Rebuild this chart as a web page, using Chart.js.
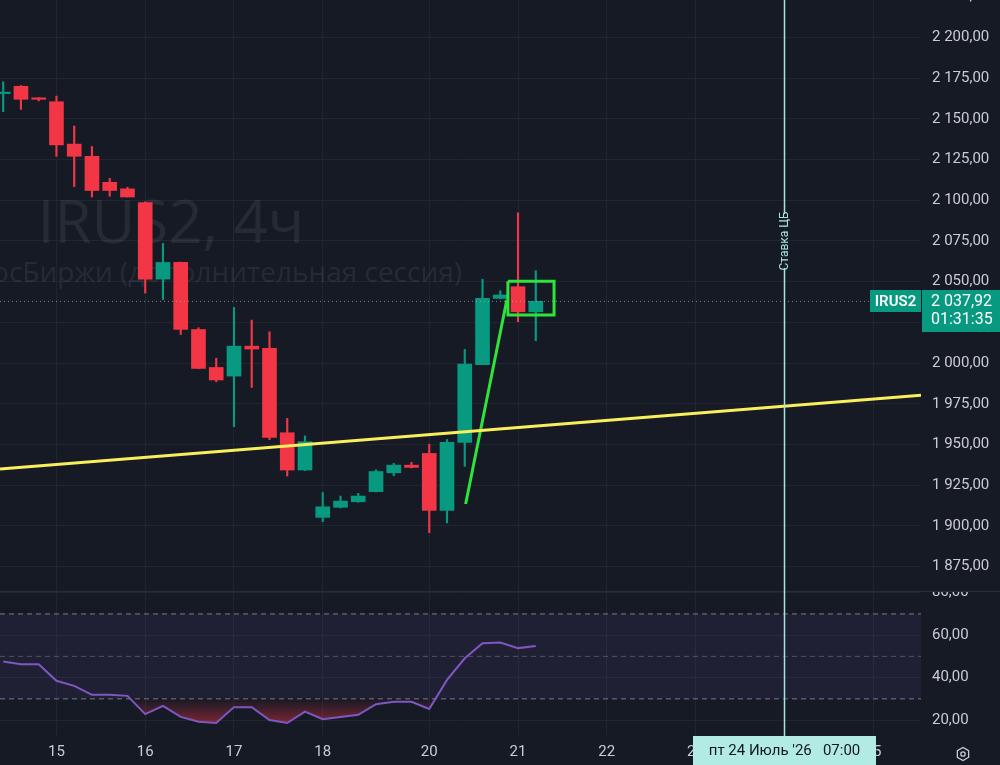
<!DOCTYPE html>
<html>
<head>
<meta charset="utf-8">
<script src="https://cdn.jsdelivr.net/npm/chart.js@4.4.0/dist/chart.umd.min.js"></script>
<style>
  html, body { margin: 0; padding: 0; background: #161a25; overflow: hidden; }
  #wrap { position: relative; width: 1000px; height: 765px; }
  canvas { position: absolute; left: 0; display: block; }
  #price { top: 0; }
  #rsi { top: 591px; }
</style>
</head>
<body>
<div id="wrap">
  <canvas id="price" width="1000" height="591"></canvas>
  <canvas id="rsi" width="1000" height="174"></canvas>
</div>
<script>
// IRUS2, 4h candles (index = candle number)
const opens  = [2165.5, 2170, 2162.5, 2160.5, 2134.5, 2127, 2111, 2107, 2098.5, 2051.6, 2061.8, 2020.6, 1997.3, 1992, 2010.4, 2009, 1957.2, 1934.3, 1905.2, 1911.4, 1914.8, 1921, 1932.6, 1937.3, 1944.5, 1909.5, 1951.3, 1999, 2039.7, 2046.9, 2031.5];
const highs  = [2172.8, 2170.5, 2163, 2164, 2145.6, 2133, 2113.5, 2108, 2099, 2073.5, 2062, 2021.7, 2003, 2034.2, 2026.4, 2019.2, 1966, 1955.3, 1920.5, 1918.3, 1920, 1934.5, 1938.4, 1939, 1950.2, 1953.1, 2008.4, 2051.4, 2044.4, 2092.3, 2056.7];
const lows   = [2154.4, 2155.8, 2161, 2127, 2108.4, 2102, 2102.5, 2102, 2043, 2039, 2017.6, 1996.5, 1988.5, 1960.9, 1985, 1953, 1930.6, 1934, 1902.5, 1911, 1914.5, 1920.8, 1930.8, 1935.6, 1895.8, 1901.8, 1936.5, 1998.9, 2039.5, 2025.4, 2013.7];
const closes = [2166, 2162, 2162, 2134, 2127, 2106, 2106, 2102, 2051.6, 2061.8, 2020.7, 1996.7, 1989.6, 2010.4, 2008.6, 1954.4, 1934.3, 1951.7, 1911.7, 1915.2, 1918.3, 1933.4, 1937.3, 1935.9, 1909.5, 1951.3, 1999.4, 2039.7, 2041.8, 2031.5, 2037.92];
const rsi    = [47.6, 46.3, 46.3, 38.5, 36.1, 31.9, 31.9, 31.4, 22.8, 26.7, 21.5, 19.2, 18.6, 26.1, 26.1, 20.0, 18.6, 24.0, 20.4, 21.4, 22.5, 27.5, 28.6, 28.6, 25.2, 38.9, 49.1, 56.2, 56.5, 53.9, 54.9];

// day labels sit on the first candle of each day
const dayTicks  = [3, 8, 13, 18, 24, 29, 34, 39, 44, 49];
const dayLabels = ['15', '16', '17', '18', '20', '21', '22', '23', '24', '25'];

const ticker = 'IRUS2';
const lastPrice = 2037.92;
const timer = '01:31:35';
const rsiLevels = [70, 50, 30];

// visible range
const xMin = -0.18, xMax = 51.7;
const priceMin = 1860, priceMax = 2223;
const rsiMin = 12.5, rsiMax = 80.8;

// drawings (index, price)
const yellowLine = [[xMin, 1934.9], [xMax, 1980.3]];
const greenLine = [[26.05, 1913.4], [28.37, 2038.7]];
const greenBox = [[28.43, 2050.2], [31.03, 2029.5]];
const cbIndex = 44;
const cbLabel = 'Ставка ЦБ';
const cbDate = "пт 24 Июль '26   07:00";

const UP = '#089981', DOWN = '#f23645';
const gridColor = '#212530';
const textColor = '#c9ccd3';
const cbColor = '#a6e5de';
const FONT = 'Roboto, "Noto Sans", sans-serif';

Chart.defaults.font.family = FONT;
Chart.defaults.color = textColor;

const fmt = v => {
  const [i, d] = v.toFixed(2).split('.');
  return i.replace(/\B(?=(\d{3})+(?!\d))/g, ' ') + ',' + d;
};

const candleColors = closes.map((c, i) => (c >= opens[i] ? UP : DOWN));
const pts = arr => arr.map(([x, y]) => ({ x, y }));

function xScale(showLabels) {
  return {
    type: 'linear', min: xMin, max: xMax, offset: false, bounds: 'data',
    grid: { color: gridColor, drawTicks: false, offset: false },
    border: { display: false },
    afterBuildTicks: s => { s.ticks = dayTicks.map(v => ({ value: v })); },
    ticks: {
      display: showLabels, autoSkip: false, maxRotation: 0, padding: 7,
      font: { size: 15 }, color: textColor,
      callback: (v, i) => dayLabels[i]
    },
    afterFit: s => { s.height = showLabels ? 29 : 0; s.paddingLeft = 0; s.paddingRight = 0; }
  };
}

function yScale(min, max, step) {
  return {
    type: 'linear', position: 'right', min, max,
    grid: { color: gridColor, drawTicks: false },
    border: { display: false },
    afterBuildTicks: s => {
      const t = [];
      for (let v = Math.ceil(s.min / step) * step; v <= s.max; v += step) t.push({ value: v });
      s.ticks = t;
    },
    ticks: { stepSize: step, padding: 11, font: { size: 15 }, color: textColor, callback: v => fmt(v) },
    afterFit: s => { s.width = 79; s.paddingTop = 0; s.paddingBottom = 0; }
  };
}

const priceOverlay = {
  id: 'priceOverlay',
  beforeDatasetsDraw(chart) {
    const { ctx } = chart;
    ctx.save();
    ctx.fillStyle = 'rgba(255,255,255,0.07)';
    ctx.textBaseline = 'alphabetic';
    ctx.font = '60px "Open Sans"';
    ctx.textAlign = 'center';
    ctx.fillText(ticker + ', 4ч', 171, 243);
    ctx.font = '28px "Open Sans"';
    ctx.textAlign = 'right';
    ctx.fillText('МосБиржи (дополнительная сессия)', 462, 282);
    ctx.restore();
  },
  afterDraw(chart) {
    const { ctx, chartArea, scales: { x, y } } = chart;
    ctx.save();
    // event line
    const cx = Math.round(x.getPixelForValue(cbIndex)) + 0.5;
    ctx.strokeStyle = cbColor;
    ctx.lineWidth = 1.5;
    ctx.beginPath();
    ctx.moveTo(cx, 0); ctx.lineTo(cx, 214);
    ctx.moveTo(cx, 268); ctx.lineTo(cx, chartArea.bottom);
    ctx.stroke();
    ctx.save();
    ctx.translate(cx, 241);
    ctx.rotate(-Math.PI / 2);
    ctx.fillStyle = cbColor;
    ctx.font = '12px ' + FONT;
    ctx.textAlign = 'center';
    ctx.textBaseline = 'middle';
    ctx.fillText(cbLabel, 0, 0);
    ctx.restore();

    // partly hidden tick above the range
    const next = Math.ceil(priceMax / 25) * 25;
    ctx.fillStyle = textColor;
    ctx.font = '15px ' + FONT;
    ctx.textAlign = 'left';
    ctx.textBaseline = 'middle';
    ctx.fillText(fmt(next), chartArea.right + 11, y.getPixelForValue(next));

    // last price labels
    const py = Math.round(y.getPixelForValue(lastPrice));
    ctx.fillStyle = UP;
    ctx.fillRect(870, py - 11, chartArea.right - 870, 22);
    ctx.fillRect(chartArea.right + 1, py - 11, chart.width - chartArea.right - 1, 42);
    ctx.fillStyle = '#ffffff';
    ctx.font = '600 15px ' + FONT;
    ctx.textAlign = 'center';
    ctx.fillText(ticker, (870 + chartArea.right) / 2, py + 1);
    ctx.font = '16px ' + FONT;
    ctx.textAlign = 'left';
    ctx.fillText(fmt(lastPrice), chartArea.right + 10, py + 1);
    ctx.fillText(timer, chartArea.right + 10, py + 19);
    ctx.restore();
  }
};

new Chart(document.getElementById('price'), {
  type: 'bar',
  data: {
    datasets: [
      {
        type: 'line', data: pts(yellowLine), borderColor: '#f9ee5c', borderWidth: 3,
        pointRadius: 0, order: 0
      },
      {
        type: 'line', data: pts(greenLine), borderColor: '#2ee43c', borderWidth: 3,
        pointRadius: 0, order: 0
      },
      {
        type: 'line', order: 0, pointRadius: 0, borderColor: '#2ee43c', borderWidth: 3,
        data: pts([
          [greenBox[0][0], greenBox[0][1]], [greenBox[1][0], greenBox[0][1]],
          [greenBox[1][0], greenBox[1][1]], [greenBox[0][0], greenBox[1][1]],
          [greenBox[0][0], greenBox[0][1]]
        ])
      },
      {
        type: 'line', data: pts([[xMin, lastPrice], [xMax, lastPrice]]), borderColor: 'rgba(150,170,170,0.8)',
        borderWidth: 1, borderDash: [1, 3], pointRadius: 0, order: 1
      },
      {
        label: 'wick', data: lows.map((l, i) => ({ x: i, y: [l, highs[i]] })),
        backgroundColor: candleColors, barThickness: 1.5, grouped: false, order: 3
      },
      {
        label: 'body', data: opens.map((o, i) => ({ x: i, y: [o, closes[i]] })),
        backgroundColor: candleColors, barThickness: 14, minBarLength: 1.5, grouped: false, order: 2
      }
    ]
  },
  options: {
    responsive: false, animation: false, events: [],
    layout: { padding: 0 },
    plugins: { legend: { display: false }, tooltip: { enabled: false } },
    scales: { x: xScale(false), y: yScale(priceMin, priceMax, 25) }
  },
  plugins: [priceOverlay]
});

const rsiOverlay = {
  id: 'rsiOverlay',
  afterDraw(chart) {
    const { ctx, chartArea, scales: { x } } = chart;
    ctx.save();
    ctx.strokeStyle = '#2a2e39';
    ctx.lineWidth = 1;
    ctx.beginPath();
    ctx.moveTo(0, 0.5); ctx.lineTo(chart.width, 0.5);
    ctx.stroke();

    const cx = Math.round(x.getPixelForValue(cbIndex)) + 0.5;
    ctx.strokeStyle = cbColor;
    ctx.lineWidth = 1.5;
    ctx.beginPath();
    ctx.moveTo(cx, 0); ctx.lineTo(cx, chartArea.bottom);
    ctx.stroke();

    // date label on the time axis
    ctx.fillStyle = '#b2ebe4';
    ctx.fillRect(cx - 91.5, chartArea.bottom, 183, chart.height - chartArea.bottom);
    ctx.fillStyle = '#131722';
    ctx.font = '15px ' + FONT;
    ctx.textAlign = 'center';
    ctx.textBaseline = 'middle';
    ctx.fillText(cbDate, cx, chartArea.bottom + 15);

    // settings icon
    const ix = 963, iy = 163;
    ctx.strokeStyle = textColor;
    ctx.lineWidth = 1.3;
    ctx.beginPath();
    for (let k = 0; k < 6; k++) {
      const a = Math.PI / 6 + k * Math.PI / 3;
      const px = ix + 6.5 * Math.cos(a), py = iy + 6.5 * Math.sin(a);
      if (k === 0) ctx.moveTo(px, py); else ctx.lineTo(px, py);
    }
    ctx.closePath();
    ctx.stroke();
    ctx.beginPath();
    ctx.arc(ix, iy, 2.2, 0, Math.PI * 2);
    ctx.stroke();
    ctx.restore();
  }
};

const level = v => pts([[xMin, v], [xMax, v]]);

new Chart(document.getElementById('rsi'), {
  type: 'line',
  data: {
    datasets: [
      {
        label: 'RSI', data: rsi.map((v, i) => ({ x: i, y: v })),
        borderColor: '#7e57c2', borderWidth: 2, pointRadius: 0, tension: 0, order: 0,
        fill: {
          target: { value: rsiLevels[2] },
          above: 'rgba(0,0,0,0)',
          below: ctx => {
            const y = ctx.chart.scales.y;
            if (!y) return 'rgba(242,54,69,0.3)';
            const g = ctx.chart.ctx.createLinearGradient(0, y.getPixelForValue(rsiLevels[2]), 0, y.getPixelForValue(rsiMin));
            g.addColorStop(0, 'rgba(242,54,69,0)');
            g.addColorStop(1, 'rgba(242,54,69,0.7)');
            return g;
          }
        }
      },
      {
        data: level(rsiLevels[1]), borderColor: 'rgba(120,123,134,0.55)', borderWidth: 1,
        borderDash: [5, 4], pointRadius: 0, fill: false, order: 1
      },
      {
        data: level(rsiLevels[0]), borderColor: '#787b86', borderWidth: 1, borderDash: [5, 4],
        pointRadius: 0, fill: '+1', backgroundColor: 'rgba(126,87,194,0.1)', order: 2
      },
      {
        data: level(rsiLevels[2]), borderColor: '#787b86', borderWidth: 1, borderDash: [5, 4],
        pointRadius: 0, fill: false, order: 2
      }
    ]
  },
  options: {
    responsive: false, animation: false, events: [],
    layout: { padding: 0 },
    plugins: { legend: { display: false }, tooltip: { enabled: false } },
    scales: { x: xScale(true), y: yScale(rsiMin, rsiMax, 20) }
  },
  plugins: [rsiOverlay]
});
</script>
</body>
</html>
